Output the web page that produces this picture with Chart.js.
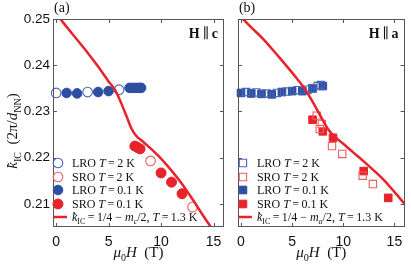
<!DOCTYPE html>
<html>
<head>
<meta charset="utf-8">
<script src="https://cdn.jsdelivr.net/npm/chart.js@4.4.1/dist/chart.umd.min.js"></script>
<style>
  html, body { margin: 0; padding: 0; background: #fff; }
  #wrap { position: relative; width: 411px; height: 265px; overflow: hidden; }
  canvas { position: absolute; top: 0; }
  #ca { left: 0; }
  #cb { left: 230px; }
</style>
</head>
<body>
<div id="wrap">
  <canvas id="ca" width="230" height="265"></canvas>
  <canvas id="cb" width="181" height="265"></canvas>
</div>
<script>
// tick labels
const xTicks = [0, 5, 10, 15];
const yTicks = [0.21, 0.22, 0.23, 0.24, 0.25];

// panel (a), H || c
const aLro2K_x = [0, 3, 6];
const aLro2K_y = [0.2340, 0.2342, 0.2347];
const aSro2K_x = [9, 13];
const aSro2K_y = [0.2193, 0.2093];
const aLro01K_x = [1, 2, 4, 5, 7, 7.3, 7.6, 7.9, 8.1];
const aLro01K_y = [0.2340, 0.2339, 0.2342, 0.2344, 0.2351, 0.2351, 0.2351, 0.2351, 0.2351];
const aSro01K_x = [7.5, 7.75, 8, 10, 11, 12];
const aSro01K_y = [0.2225, 0.2222, 0.2219, 0.2167, 0.2147, 0.2122];
const aLine_x = [0.4, 1, 2, 3, 4, 5, 5.6, 6.2, 6.7, 7.2, 7.6, 8.2, 9, 10, 11, 12, 13, 14, 14.8];
const aLine_y = [0.25, 0.2483, 0.2455, 0.2427, 0.2397, 0.2365, 0.2347, 0.2318, 0.2290, 0.2262, 0.2248, 0.2236, 0.2220, 0.2198, 0.2172, 0.2143, 0.2110, 0.2075, 0.2048];

// panel (b), H || a
const bLro2K_x = [0.5, 1.5, 2.5, 3.5, 4.5, 5.5, 6.5, 7.0, 7.5, 7.8];
const bLro2K_y = [0.2342, 0.2341, 0.2339, 0.2340, 0.2343, 0.2346, 0.2347, 0.2350, 0.2355, 0.2357];
const bSro2K_x = [7.4, 7.7, 7.9, 8.9, 9.9, 11.9, 12.9];
const bSro2K_y = [0.2291, 0.2262, 0.2273, 0.2225, 0.2208, 0.2161, 0.2143];
const bLro01K_x = [0, 1, 2, 3, 4, 5, 6, 7, 8];
const bLro01K_y = [0.2340, 0.2339, 0.2338, 0.2337, 0.2342, 0.2344, 0.2344, 0.2350, 0.2355];
const bSro01K_x = [7, 8, 9, 12, 14.4];
const bSro01K_y = [0.2282, 0.2257, 0.2243, 0.2171, 0.2113];
const bLine_x = [0.2, 1, 2.2, 3.7, 5.25, 6.3, 7.2, 8.0, 8.5, 9.0, 10, 11, 12, 13, 14, 15, 16];
const bLine_y = [0.25, 0.2482, 0.2456, 0.2418, 0.2377, 0.2347, 0.2313, 0.2281, 0.2262, 0.2249, 0.2230, 0.2211, 0.2192, 0.2172, 0.2151, 0.2126, 0.2100];

const BLUE = '#2d4ea2';
const BLUE_OPEN = '#4565b8';
const RED = '#e8232b';
const RED_OPEN = '#ef5d5d';
const SERIF = '"Liberation Serif", "DejaVu Serif", serif';

function pts(xs, ys) {
    return xs.map((x, i) => ({ x: x, y: ys[i] }));
}

function markerSet(label, xs, ys, style, color, filled, r) {
    return {
        label: label,
        data: pts(xs, ys),
        showLine: false,
        pointStyle: style,
        pointRadius: r,
        pointBorderWidth: filled ? 1 : 1.1,
        pointBorderColor: color,
        pointBackgroundColor: filled ? color : 'rgba(0,0,0,0)',
        clip: false,
        order: 1
    };
}

function lineSet(label, xs, ys) {
    return {
        label: label,
        data: pts(xs, ys),
        showLine: true,
        borderColor: RED,
        borderWidth: 2.5,
        pointRadius: 0,
        cubicInterpolationMode: 'monotone',
        order: 0
    };
}

// draws text made of plain / italic / subscript pieces
function drawRich(ctx, x, y, parts, size, align) {
    const fontOf = p => (p.it ? 'italic ' : '') + (p.b ? 'bold ' : '') +
        (p.sub ? Math.round(size * 0.68) : size) + 'px ' + SERIF;
    let w = 0;
    parts.forEach(p => { ctx.font = fontOf(p); p.w = ctx.measureText(p.t).width; w += p.w; });
    let cx = align === 'center' ? x - w / 2 : (align === 'right' ? x - w : x);
    ctx.textAlign = 'left';
    ctx.textBaseline = 'alphabetic';
    parts.forEach(p => {
        ctx.font = fontOf(p);
        ctx.fillText(p.t, cx, y + (p.sub ? size * 0.28 : 0));
        if (p.tilde) {
            ctx.font = Math.round(size * 0.9) + 'px ' + SERIF;
            ctx.textAlign = 'center';
            ctx.fillText('\u02dc', cx + p.w * 0.6, y - size * 0.02);
            ctx.textAlign = 'left';
        }
        cx += p.w;
    });
}

const legendRows = [163, 177, 190, 204, 217];

function tLabel(name, temp) {
    return [{ t: name + ' ' }, { t: 'T', it: true }, { t: '\u2009=\u2009' + temp + ' K' }];
}

function lineLabel(axisSub) {
    return [{ t: 'k', it: true, tilde: true }, { t: 'IC', sub: true }, { t: '\u2009=\u20091/4 \u2212 ' },
            { t: 'm', it: true }, { t: axisSub, it: true, sub: true }, { t: '/2, ' }, { t: 'T', it: true },
            { t: '\u2009=\u20091.3 K' }];
}

const decor = {
    id: 'decor',
    afterDatasetsDraw(chart, args, opts) {
        const ctx = chart.ctx;
        const a = chart.chartArea;
        const xs = chart.scales.x, ys = chart.scales.y;
        ctx.save();
        // frame and inward ticks
        ctx.strokeStyle = '#555';
        ctx.lineWidth = 1;
        ctx.strokeRect(Math.round(a.left) + 0.5, Math.round(a.top) + 0.5,
            Math.round(a.right - a.left) - 1, Math.round(a.bottom - a.top) - 1);
        ctx.beginPath();
        xTicks.forEach(v => {
            const px = Math.round(xs.getPixelForValue(v)) + 0.5;
            ctx.moveTo(px, a.bottom); ctx.lineTo(px, a.bottom - 4);
            ctx.moveTo(px, a.top); ctx.lineTo(px, a.top + 4);
        });
        yTicks.forEach(v => {
            const py = Math.round(ys.getPixelForValue(v)) + 0.5;
            ctx.moveTo(a.left, py); ctx.lineTo(a.left + 4, py);
            ctx.moveTo(a.right, py); ctx.lineTo(a.right - 4, py);
        });
        ctx.stroke();

        // legend inside the plot
        ctx.fillStyle = '#111';
        chart.data.datasets.forEach((ds, i) => {
            const y = legendRows[i];
            const mx = a.left + opts.markerX;
            if (ds.showLine) {
                ctx.strokeStyle = ds.borderColor;
                ctx.lineWidth = 2.5;
                ctx.beginPath();
                ctx.moveTo(a.left + 1, y); ctx.lineTo(a.left + 14, y);
                ctx.stroke();
            } else {
                ctx.strokeStyle = ds.pointBorderColor;
                ctx.fillStyle = ds.pointBackgroundColor;
                ctx.lineWidth = ds.pointBorderWidth;
                ctx.beginPath();
                if (ds.pointStyle === 'circle') {
                    ctx.arc(mx, y, ds.pointRadius, 0, Math.PI * 2);
                } else {
                    const s = ds.pointRadius * Math.SQRT1_2;
                    ctx.rect(mx - s, y - s, 2 * s, 2 * s);
                }
                ctx.fill();
                ctx.stroke();
            }
            ctx.fillStyle = '#111';
            drawRich(ctx, a.left + 19, y + 4, opts.legend[i], 12, 'left');
        });

        // panel tag and field direction
        drawRich(ctx, a.left + 1, 12, [{ t: opts.tag }], 14, 'left');
        drawRich(ctx, a.right - 6, 38, [{ t: 'H', b: true }, { t: '\u2009\u2225\u2009' }, { t: opts.dir, b: true }], 14, 'right');

        // x title
        const cx = (a.left + a.right) / 2;
        drawRich(ctx, cx, 257, [{ t: '\u03bc', it: true }, { t: '0', sub: true }, { t: 'H', it: true }, { t: '  (T)' }], 15, 'center');

        // y title
        if (opts.yTitle) {
            ctx.save();
            ctx.translate(17, (a.top + a.bottom) / 2 + 8);
            ctx.rotate(-Math.PI / 2);
            drawRich(ctx, 0, 0, [{ t: 'k', it: true, tilde: true }, { t: 'IC', sub: true }, { t: '  (2\u03c0/' },
                { t: 'd', it: true }, { t: 'NN', sub: true }, { t: ')' }], 15, 'center');
            ctx.restore();
        }
        ctx.restore();
    }
};

function makeChart(id, datasets, opts, leftWidth, padLeft) {
    return new Chart(document.getElementById(id), {
        type: 'scatter',
        data: { datasets: datasets },
        options: {
            responsive: false,
            animation: false,
            layout: { padding: { left: padLeft, right: 2, top: 19, bottom: 0 } },
            plugins: { legend: { display: false }, tooltip: { enabled: false }, decor: opts },
            scales: {
                x: {
                    type: 'linear', min: -0.3, max: 16,
                    grid: { display: false, drawTicks: false },
                    border: { display: false },
                    afterBuildTicks: s => { s.ticks = xTicks.map(v => ({ value: v })); },
                    afterFit: s => { s.height = 38; },
                    ticks: {
                        padding: 7, color: '#111',
                        font: { family: '"Liberation Sans", Arial, sans-serif', size: 14 },
                        callback: v => String(v)
                    }
                },
                y: {
                    type: 'linear', min: 0.205, max: 0.25,
                    grid: { display: false, drawTicks: false },
                    border: { display: false },
                    afterBuildTicks: s => { s.ticks = yTicks.map(v => ({ value: v })); },
                    afterFit: s => { s.width = leftWidth; },
                    ticks: {
                        display: leftWidth > 10, padding: 3, color: '#111',
                        font: { family: '"Liberation Sans", Arial, sans-serif', size: 13.5 },
                        callback: v => v.toFixed(2)
                    }
                }
            }
        },
        plugins: [decor]
    });
}

makeChart('ca', [
    markerSet('LRO T = 2 K', aLro2K_x, aLro2K_y, 'circle', BLUE_OPEN, false, 4.8),
    markerSet('SRO T = 2 K', aSro2K_x, aSro2K_y, 'circle', RED_OPEN, false, 4.8),
    markerSet('LRO T = 0.1 K', aLro01K_x, aLro01K_y, 'circle', BLUE, true, 4.8),
    markerSet('SRO T = 0.1 K', aSro01K_x, aSro01K_y, 'circle', RED, true, 5),
    lineSet('k_IC = 1/4 - m_c/2, T = 1.3 K', aLine_x, aLine_y)
], {
    markerX: 5, tag: '(a)', dir: 'c', yTitle: true,
    legend: [tLabel('LRO', '2'), tLabel('SRO', '2'), tLabel('LRO', '0.1'), tLabel('SRO', '0.1'), lineLabel('c')]
}, 53, 0);

makeChart('cb', [
    markerSet('LRO T = 2 K', bLro2K_x, bLro2K_y, 'rect', BLUE_OPEN, false, 5.2),
    markerSet('SRO T = 2 K', bSro2K_x, bSro2K_y, 'rect', RED_OPEN, false, 5.2),
    markerSet('LRO T = 0.1 K', bLro01K_x, bLro01K_y, 'rect', BLUE, true, 5.4),
    markerSet('SRO T = 0.1 K', bSro01K_x, bSro01K_y, 'rect', RED, true, 5.4),
    lineSet('k_IC = 1/4 - m_a/2, T = 1.3 K', bLine_x, bLine_y)
], {
    markerX: 5, tag: '(b)', dir: 'a', yTitle: false,
    legend: [tLabel('LRO', '2'), tLabel('SRO', '2'), tLabel('LRO', '0.1'), tLabel('SRO', '0.1'), lineLabel('a')]
}, 0, 2);
</script>
</body>
</html>
